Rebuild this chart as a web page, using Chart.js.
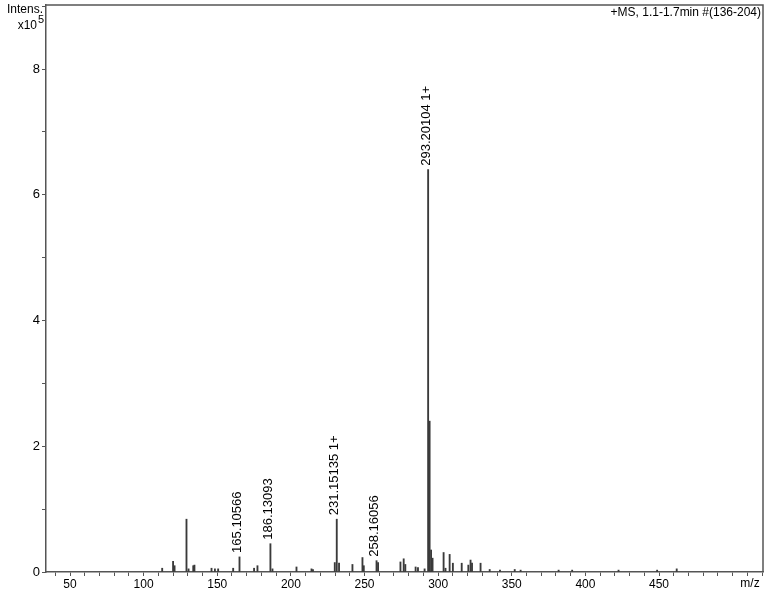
<!DOCTYPE html>
<html>
<head>
<meta charset="utf-8">
<script src="https://cdn.jsdelivr.net/npm/chart.js@4.4.1/dist/chart.umd.min.js"></script>
<style>
  html, body { margin: 0; padding: 0; background: #ffffff; }
  #wrap { width: 765px; height: 594px; position: relative; }
</style>
</head>
<body>
<div id="wrap"><canvas id="c" width="765" height="594"></canvas></div>
<script>
// m/z positions of peaks
const peakMz = [112.6, 120.0, 121.0, 129.1, 130.5, 133.7, 134.5, 146.1, 148.4, 150.6,
  160.8, 165.1, 175.0, 177.3, 186.1, 187.5, 203.8, 214.0, 215.0, 229.8,
  231.15, 232.7, 241.8, 248.6, 249.5, 258.16, 259.2, 274.4, 276.6, 277.7,
  284.7, 286.3, 290.8, 293.2, 294.2, 295.2, 296.2, 303.7, 305.0, 307.8,
  310.0, 316.0, 320.5, 322.0, 323.0, 328.8, 335.0, 342.0, 352.0, 356.0,
  381.8, 391.0, 422.5, 448.7, 462.0];
// intensities (x10^5)
const peakInt = [0.06, 0.17, 0.10, 0.84, 0.05, 0.10, 0.11, 0.06, 0.05, 0.05,
  0.06, 0.24, 0.06, 0.10, 0.45, 0.05, 0.08, 0.05, 0.04, 0.15,
  0.84, 0.14, 0.12, 0.23, 0.10, 0.18, 0.15, 0.16, 0.21, 0.12,
  0.08, 0.07, 0.05, 6.40, 2.40, 0.35, 0.22, 0.31, 0.06, 0.28,
  0.14, 0.14, 0.11, 0.19, 0.14, 0.14, 0.04, 0.03, 0.04, 0.03,
  0.03, 0.03, 0.03, 0.03, 0.05];
// annotated peaks
const labelMz = [165.1, 186.1, 231.15, 258.16, 293.2];
const labelInt = [0.24, 0.45, 0.84, 0.18, 6.40];
const labelText = ["165.10566", "186.13093", "231.15135 1+", "258.16056", "293.20104 1+"];
// axis tick labels
const xTickLabels = [50, 100, 150, 200, 250, 300, 350, 400, 450];
const yTickLabels = [0, 2, 4, 6, 8];

const FONT = '"Liberation Sans", Arial, sans-serif';

const decor = {
  id: 'decor',
  afterDraw(chart) {
    const ctx = chart.ctx, a = chart.chartArea;
    const xs = chart.scales.x, ys = chart.scales.y;
    ctx.save();
    // frame top and right
    ctx.strokeStyle = '#555';
    ctx.lineWidth = 1.5;
    ctx.beginPath();
    ctx.moveTo(a.left, a.top);
    ctx.lineTo(a.right, a.top);
    ctx.lineTo(a.right, a.bottom);
    ctx.stroke();
    // peak labels
    ctx.fillStyle = '#000';
    ctx.font = '13px ' + FONT;
    ctx.textAlign = 'left';
    ctx.textBaseline = 'middle';
    for (let i = 0; i < labelMz.length; i++) {
      const x = xs.getPixelForValue(labelMz[i]);
      const y = ys.getPixelForValue(labelInt[i]);
      ctx.save();
      ctx.translate(x - 2, y - 4);
      ctx.rotate(-Math.PI / 2);
      ctx.fillText(labelText[i], 0, 0);
      ctx.restore();
    }
    // title
    ctx.font = '12px ' + FONT;
    ctx.textAlign = 'right';
    ctx.textBaseline = 'top';
    ctx.fillText('+MS, 1.1-1.7min #(136-204)', a.right - 2, 7);
    // y axis label
    ctx.textAlign = 'right';
    ctx.fillText('Intens.', 43, 4);
    ctx.fillText('x10', 37, 20);
    ctx.font = '11px ' + FONT;
    ctx.fillText('5', 44, 14);
    // x axis unit
    ctx.font = '12px ' + FONT;
    ctx.textAlign = 'center';
    ctx.fillText('m/z', 750, a.bottom + 6);
    ctx.restore();
  }
};

new Chart(document.getElementById('c'), {
  type: 'bar',
  data: {
    datasets: [{
      data: peakMz.map((m, i) => ({ x: m, y: peakInt[i] })),
      backgroundColor: '#3a3a3a',
      borderWidth: 0,
      barThickness: 1.2,
      grouped: false
    }]
  },
  options: {
    responsive: false,
    animation: false,
    events: [],
    layout: { padding: { top: 5, right: 2, left: 0, bottom: 0 } },
    plugins: { legend: { display: false }, tooltip: { enabled: false }, title: { display: false } },
    scales: {
      x: {
        type: 'linear',
        offset: false,
        min: 33.7,
        max: 520.6,
        grid: { offset: false, drawOnChartArea: false, drawTicks: true, tickLength: 4, color: '#555' },
        border: { display: true, color: '#555', width: 1.5 },
        ticks: {
          stepSize: 10,
          includeBounds: false,
          autoSkip: false,
          maxRotation: 0,
          padding: 1,
          color: '#000',
          font: { family: FONT, size: 12 },
          callback: (v) => xTickLabels.includes(v) ? String(v) : ''
        },
        afterFit: (s) => { s.height = 22; s.paddingLeft = 0; s.paddingRight = 0; }
      },
      y: {
        min: 0,
        max: 9.02,
        grid: { drawOnChartArea: false, drawTicks: true, tickLength: 4, color: '#555' },
        border: { display: true, color: '#555', width: 1.5 },
        ticks: {
          stepSize: 1,
          includeBounds: false,
          autoSkip: false,
          padding: 2,
          color: '#000',
          font: { family: FONT, size: 13 },
          callback: (v) => yTickLabels.includes(v) ? String(v) : ''
        },
        afterFit: (s) => { s.width = 46; s.paddingTop = 0; s.paddingBottom = 0; }
      }
    }
  },
  plugins: [decor]
});
</script>
</body>
</html>
